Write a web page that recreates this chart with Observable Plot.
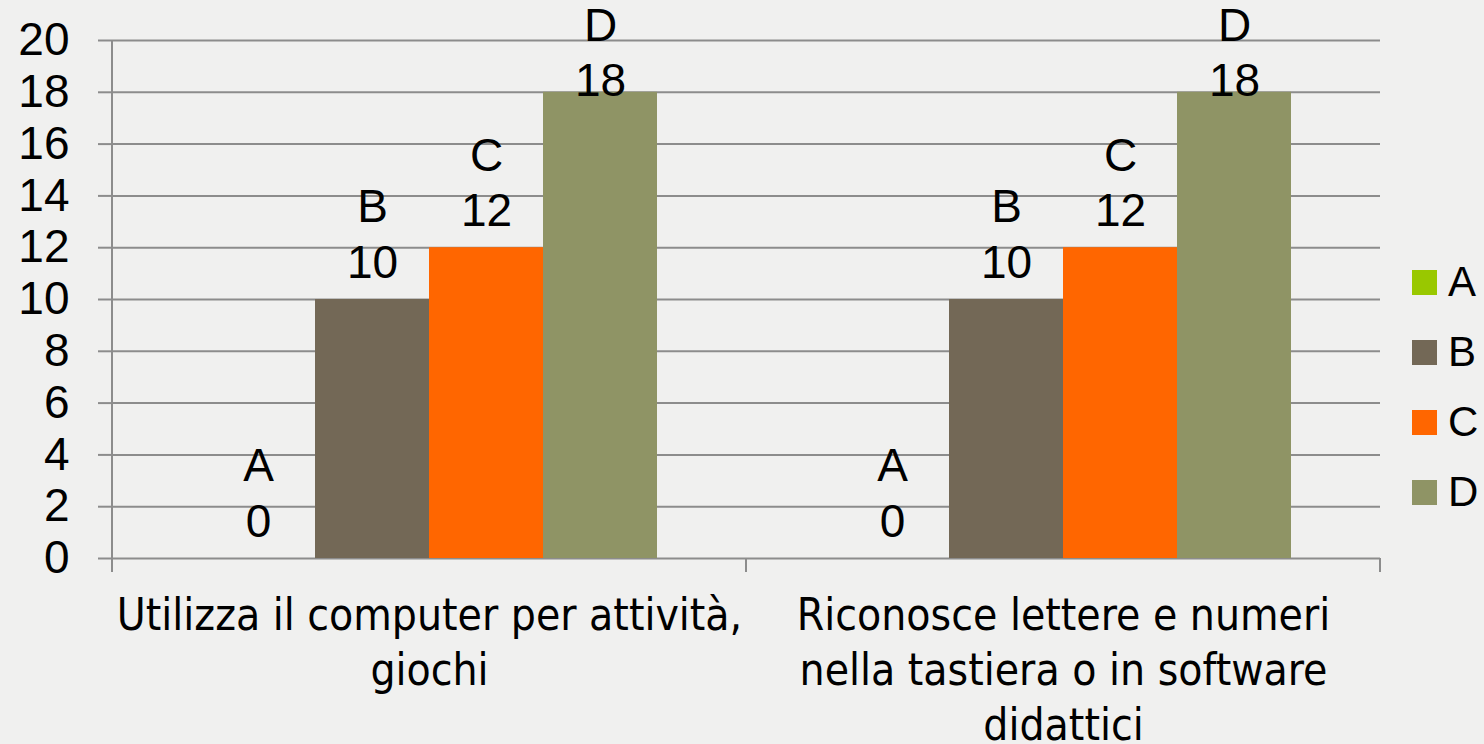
<!DOCTYPE html>
<html><head><meta charset="utf-8">
<script src="https://cdn.jsdelivr.net/npm/d3@7"></script>
<script src="https://cdn.jsdelivr.net/npm/@observablehq/plot@0.6"></script>
<style>
html,body{margin:0;padding:0;background:#f0f0ef;}
#wrap{position:relative;width:1484px;height:744px;overflow:hidden;}
#legend{position:absolute;left:1412px;top:247px;font-family:"Liberation Sans",Arial,sans-serif;font-size:42px;color:#000;}
#legend .item{display:flex;align-items:center;height:70px;}
#legend .sw{width:25px;height:25px;margin-right:11px;}
</style></head><body><div id="wrap"><div id="legend"></div></div>
<script>
const categories = ["Utilizza il computer per attività, giochi", "Riconosce lettere e numeri nella tastiera o in software didattici"];
const categoryLabels = ["Utilizza il computer per attività,\ngiochi", "Riconosce lettere e numeri\nnella tastiera o in software\ndidattici"];
const series = ["A", "B", "C", "D"];
const valuesA = [0, 0];
const valuesB = [10, 10];
const valuesC = [12, 12];
const valuesD = [18, 18];
const colors = ["#99c800", "#736856", "#ff6600", "#8f9465"];
const yTicks = [0, 2, 4, 6, 8, 10, 12, 14, 16, 18, 20];
const labelClampAbove = 16; // labels of taller bars are kept inside the chart area, as the original does

const seriesValues = [valuesA, valuesB, valuesC, valuesD];
const rows = [];
categories.forEach((cat, i) => series.forEach((s, j) => rows.push({cat, series: s, value: seriesValues[j][i]})));
const labelText = d => `${d.series}\n${d.value}`;

const chart = Plot.plot({
  width: 1484, height: 744,
  marginLeft: 111, marginRight: 104, marginTop: 40, marginBottom: 186,
  style: {background: "transparent", fontFamily: "'Liberation Sans', Arial, sans-serif", fontSize: "46px", color: "#000"},
  fx: {domain: categories, padding: 0, label: null},
  x: {domain: series, paddingInner: 0, paddingOuter: 0.76, axis: null},
  y: {domain: [0, 20], ticks: yTicks},
  color: {domain: series, range: colors},
  marks: [
    Plot.gridY(yTicks, {stroke: "#8c8c8c", strokeOpacity: 1, strokeWidth: 2}),
    Plot.barY(rows, {fx: "cat", x: "series", y: "value", fill: "series"}),
    Plot.text(rows.filter(d => d.value <= labelClampAbove), {fx: "cat", x: "series", y: "value", text: labelText, lineAnchor: "bottom", dy: -22, lineHeight: 1.2, fontSize: 46, fill: "#000"}),
    Plot.text(rows.filter(d => d.value > labelClampAbove), {fx: "cat", x: "series", frameAnchor: "top", text: labelText, lineAnchor: "top", dy: -39, lineHeight: 1.2, fontSize: 46, fill: "#000"}),
    Plot.axisY(yTicks, {tickSize: 14, tickPadding: 29, stroke: "#8c8c8c", strokeWidth: 2, strokeOpacity: 1, fill: "#000", fontSize: 46, label: null}),
    Plot.axisFx({anchor: "bottom", tickSize: 0, tickPadding: 32, lineAnchor: "top", lineHeight: 1.25,
      tickFormat: d => categoryLabels[categories.indexOf(d)], fontSize: 44,
      fontFamily: "'Liberation Sans Narrow', 'DejaVu Sans Condensed', sans-serif", fill: "#000", label: null})
  ]
});

const svg = d3.select(chart);
const fxs = chart.scale("fx"), ys = chart.scale("y");
const y0 = ys.apply(0), y20 = ys.apply(20);
const g = svg.append("g").attr("stroke", "#8c8c8c").attr("stroke-width", 2);
const left = fxs.apply(categories[0]);
g.append("line").attr("x1", left).attr("x2", left).attr("y1", y20).attr("y2", y0 + 14);
categories.forEach(c => {
  const xr = fxs.apply(c) + fxs.bandwidth;
  g.append("line").attr("x1", xr).attr("x2", xr).attr("y1", y0).attr("y2", y0 + 14);
});
document.getElementById("wrap").prepend(chart);

const legend = d3.select("#legend");
series.forEach((s, i) => {
  const it = legend.append("div").attr("class", "item");
  it.append("div").attr("class", "sw").style("background", colors[i]);
  it.append("span").text(s);
});
</script>
</body></html>
